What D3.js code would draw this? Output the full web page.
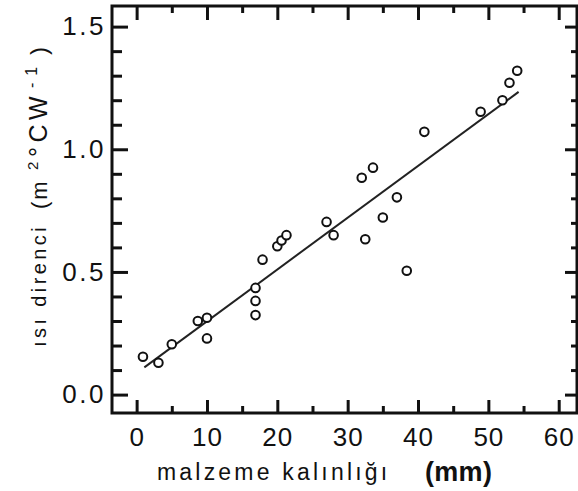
<!DOCTYPE html>
<html>
<head>
<meta charset="utf-8">
<script src="https://cdn.jsdelivr.net/npm/d3@7"></script>
<style>
  html, body { margin: 0; padding: 0; background: #fff; }
  svg { display: block; }
  text { font-family: Arial, "Liberation Sans", Helvetica, sans-serif; fill: #111; }
</style>
</head>
<body>
<svg id="chart" width="578" height="491"></svg>
<script>
// ---- data ----
const thickness = [0.9, 3.1, 5.0, 8.7, 10.0, 10.0, 16.9, 16.9, 16.9, 17.9, 20.0, 20.6, 21.3, 27.0, 28.0, 32.0, 33.6, 32.5, 35.0, 37.0, 38.4, 40.9, 48.9, 52.0, 53.0, 54.1];
const resistance = [0.154, 0.130, 0.205, 0.300, 0.313, 0.229, 0.435, 0.382, 0.324, 0.550, 0.605, 0.628, 0.650, 0.704, 0.650, 0.884, 0.925, 0.633, 0.722, 0.804, 0.505, 1.071, 1.153, 1.200, 1.271, 1.320];
const fitX = [1.1, 54.3];
const fitY = [0.111, 1.234];
const xTicks = [0, 10, 20, 30, 40, 50, 60];
const xMinorTicks = [5, 15, 25, 35, 45, 55];
const yTicks = [0.0, 0.5, 1.0, 1.5];
const yMinorTicks = [0.1, 0.2, 0.3, 0.4, 0.6, 0.7, 0.8, 0.9, 1.1, 1.2, 1.3, 1.4];
const xTitle = "malzeme kalınlığı";
const xUnit = "(mm)";
const yTitle = "ısı direnci";

// ---- layout ----
const L = 112, R = 577, T = 6, B = 413;
const svg = d3.select("#chart");
const x = d3.scaleLinear().domain([-3.5, 62.6]).range([L, R]);
const y = d3.scaleLinear().domain([-0.075, 1.584]).range([B, T]);

function styleAxis(g) {
  g.select(".domain").remove();
  g.selectAll(".tick line").attr("stroke", "#111").attr("stroke-width", 3);
}

// bottom major with labels
const gxb = svg.append("g").attr("transform", `translate(0,${B})`)
  .call(d3.axisBottom(x).tickValues(xTicks).tickSize(-13).tickPadding(15).tickFormat(d3.format("d")));
styleAxis(gxb);
gxb.selectAll(".tick text").attr("font-size", 26).attr("letter-spacing", 1).attr("fill", "#111");
svg.append("g").attr("transform", `translate(0,${B})`)
  .call(d3.axisBottom(x).tickValues(xMinorTicks).tickSize(-7).tickFormat("")).call(styleAxis);
// top
svg.append("g").attr("transform", `translate(0,${T})`)
  .call(d3.axisTop(x).tickValues(xTicks).tickSize(-14).tickFormat("")).call(styleAxis);
svg.append("g").attr("transform", `translate(0,${T})`)
  .call(d3.axisTop(x).tickValues(xMinorTicks).tickSize(-7).tickFormat("")).call(styleAxis);
// left
const gyl = svg.append("g").attr("transform", `translate(${L},0)`)
  .call(d3.axisLeft(y).tickValues(yTicks).tickSize(-16).tickPadding(6).tickFormat(d3.format(".1f")));
styleAxis(gyl);
gyl.selectAll(".tick text").attr("font-size", 26).attr("letter-spacing", 2.5).attr("fill", "#111");
svg.append("g").attr("transform", `translate(${L},0)`)
  .call(d3.axisLeft(y).tickValues(yMinorTicks).tickSize(-10).tickFormat("")).call(styleAxis);
// right
svg.append("g").attr("transform", `translate(${R},0)`)
  .call(d3.axisRight(y).tickValues(yTicks).tickSize(-12).tickFormat("")).call(styleAxis);
svg.append("g").attr("transform", `translate(${R},0)`)
  .call(d3.axisRight(y).tickValues(yMinorTicks).tickSize(-6).tickFormat("")).call(styleAxis);

// frame
svg.append("rect").attr("x", L).attr("y", T).attr("width", R - L).attr("height", B - T)
  .attr("fill", "none").attr("stroke", "#111").attr("stroke-width", 3);

// fit line
const lineData = fitX.map((v, i) => [v, fitY[i]]);
svg.append("path").datum(lineData)
  .attr("d", d3.line().x(d => x(d[0])).y(d => y(d[1])))
  .attr("stroke", "#222").attr("stroke-width", 2).attr("fill", "none");

// points
svg.append("g").selectAll("circle").data(thickness.map((v, i) => [v, resistance[i]]))
  .join("circle")
  .attr("cx", d => x(d[0])).attr("cy", d => y(d[1])).attr("r", 4.3)
  .attr("fill", "#fff").attr("stroke", "#111").attr("stroke-width", 2);

// x title
svg.append("text").attr("x", 157).attr("y", 480).attr("font-size", 23).attr("letter-spacing", 3.2)
  .text(xTitle);
svg.append("text").attr("x", 425).attr("y", 481).attr("font-size", 27).attr("font-weight", "bold")
  .attr("letter-spacing", 0.3).text(xUnit);

// y title (rotated pieces)
function vtext(bx, sy, size, str, extra) {
  const t = svg.append("text").attr("transform", `translate(${bx},${sy}) rotate(-90)`)
    .attr("font-size", size).text(str);
  if (extra) extra(t);
  return t;
}
vtext(46, 347, 20, yTitle, t => t.attr("letter-spacing", 3.4));
vtext(47, 209, 22, "(m", t => t.attr("letter-spacing", 2));
vtext(38, 170, 15, "2");
vtext(47, 157, 25, "°CW", t => t.attr("letter-spacing", 4.5));
vtext(37, 88, 16, "-1", t => t.attr("letter-spacing", 7));
vtext(47, 55, 24, ")");
</script>
</body>
</html>
